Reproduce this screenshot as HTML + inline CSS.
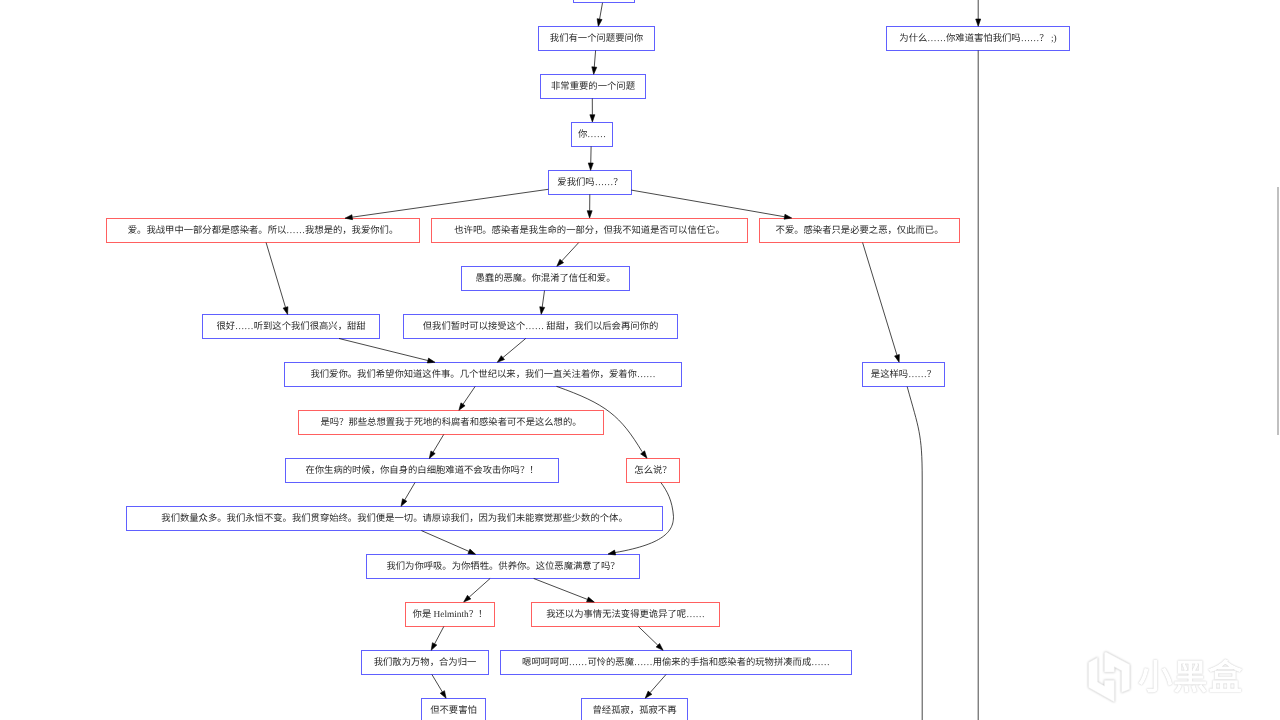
<!DOCTYPE html>
<html lang="zh-CN"><head><meta charset="utf-8">
<style>
html,body{margin:0;padding:0;background:#fff;width:1280px;height:720px;overflow:hidden}
svg{position:absolute;left:0;top:0;will-change:transform}
text{font-family:"Liberation Serif",serif;font-size:9.333px;text-rendering:geometricPrecision;fill:#2a2a2a;text-anchor:middle}
.sb{position:absolute;left:1277px;top:187px;width:2px;height:248px;background:#c0c0c0}
.wm{position:absolute;left:1138px;top:652px;font-family:"Liberation Sans",sans-serif;font-size:34.5px;line-height:50px;font-weight:bold;color:#fff;letter-spacing:1px;text-shadow:0 0 1.5px rgba(0,0,0,0.3)}
</style></head><body>
<svg width="1280" height="720" viewBox="0 0 1280 720">
<rect x="573.5" y="-21.5" width="61.0" height="24" fill="none" stroke="#6060ff" stroke-width="1"/>
<rect x="538.5" y="26.5" width="116.0" height="24" fill="none" stroke="#6060ff" stroke-width="1"/>
<text x="596.50" y="41.30">我们有一个问题要问你</text>
<rect x="886.5" y="26.5" width="183.0" height="24" fill="none" stroke="#6060ff" stroke-width="1"/>
<text x="978.00" y="41.30">为什么……你难道害怕我们吗……？ ;)</text>
<rect x="540.5" y="74.5" width="105.0" height="24" fill="none" stroke="#6060ff" stroke-width="1"/>
<text x="593.00" y="89.30">非常重要的一个问题</text>
<rect x="571.5" y="122.5" width="41.0" height="24" fill="none" stroke="#6060ff" stroke-width="1"/>
<text x="592.00" y="137.30">你……</text>
<rect x="548.5" y="170.5" width="83.0" height="24" fill="none" stroke="#6060ff" stroke-width="1"/>
<text x="590.00" y="185.30">爱我们吗……？</text>
<rect x="106.5" y="218.5" width="313.0" height="24" fill="none" stroke="#ff6060" stroke-width="1"/>
<text x="263.00" y="233.30">爱。我战甲中一部分都是感染者。所以……我想是的，我爱你们。</text>
<rect x="431.5" y="218.5" width="316.0" height="24" fill="none" stroke="#ff6060" stroke-width="1"/>
<text x="589.50" y="233.30">也许吧。感染者是我生命的一部分，但我不知道是否可以信任它。</text>
<rect x="759.5" y="218.5" width="200.0" height="24" fill="none" stroke="#ff6060" stroke-width="1"/>
<text x="859.50" y="233.30">不爱。感染者只是必要之恶，仅此而已。</text>
<rect x="461.5" y="266.5" width="168.0" height="24" fill="none" stroke="#6060ff" stroke-width="1"/>
<text x="545.50" y="281.30">愚蠢的恶魔。你混淆了信任和爱。</text>
<rect x="202.5" y="314.5" width="177.0" height="24" fill="none" stroke="#6060ff" stroke-width="1"/>
<text x="291.00" y="329.30">很好……听到这个我们很高兴，甜甜</text>
<rect x="403.5" y="314.5" width="274.0" height="24" fill="none" stroke="#6060ff" stroke-width="1"/>
<text x="540.50" y="329.30">但我们暂时可以接受这个…… 甜甜，我们以后会再问你的</text>
<rect x="284.5" y="362.5" width="397.0" height="24" fill="none" stroke="#6060ff" stroke-width="1"/>
<text x="483.00" y="377.30">我们爱你。我们希望你知道这件事。几个世纪以来，我们一直关注着你，爱着你……</text>
<rect x="862.5" y="362.5" width="82.0" height="24" fill="none" stroke="#6060ff" stroke-width="1"/>
<text x="903.50" y="377.30">是这样吗……？</text>
<rect x="298.5" y="410.5" width="305.0" height="24" fill="none" stroke="#ff6060" stroke-width="1"/>
<text x="451.00" y="425.30">是吗？那些总想置我于死地的科腐者和感染者可不是这么想的。</text>
<rect x="285.5" y="458.5" width="273.0" height="24" fill="none" stroke="#6060ff" stroke-width="1"/>
<text x="422.00" y="473.30">在你生病的时候，你自身的白细胞难道不会攻击你吗？！</text>
<rect x="626.5" y="458.5" width="53.0" height="24" fill="none" stroke="#ff6060" stroke-width="1"/>
<text x="653.00" y="473.30">怎么说？</text>
<rect x="126.5" y="506.5" width="536.0" height="24" fill="none" stroke="#6060ff" stroke-width="1"/>
<text x="394.50" y="521.30">我们数量众多。我们永恒不变。我们贯穿始终。我们便是一切。请原谅我们，因为我们未能察觉那些少数的个体。</text>
<rect x="366.5" y="554.5" width="273.0" height="24" fill="none" stroke="#6060ff" stroke-width="1"/>
<text x="503.00" y="569.30">我们为你呼吸。为你牺牲。供养你。这位恶魔满意了吗？</text>
<rect x="405.5" y="602.5" width="89.0" height="24" fill="none" stroke="#ff6060" stroke-width="1"/>
<text x="450.00" y="617.30">你是 Helminth？！</text>
<rect x="531.5" y="602.5" width="188.0" height="24" fill="none" stroke="#ff6060" stroke-width="1"/>
<text x="625.50" y="617.30">我还以为事情无法变得更诡异了呢……</text>
<rect x="361.5" y="650.5" width="127.0" height="24" fill="none" stroke="#6060ff" stroke-width="1"/>
<text x="425.00" y="665.30">我们散为万物，合为归一</text>
<rect x="500.5" y="650.5" width="351.0" height="24" fill="none" stroke="#6060ff" stroke-width="1"/>
<text x="676.00" y="665.30">嗯呵呵呵呵……可怜的恶魔……用偷来的手指和感染者的玩物拼凑而成……</text>
<rect x="421.5" y="698.5" width="64.0" height="24" fill="none" stroke="#6060ff" stroke-width="1"/>
<text x="453.50" y="713.30">但不要害怕</text>
<rect x="581.5" y="698.5" width="106.0" height="24" fill="none" stroke="#6060ff" stroke-width="1"/>
<text x="634.50" y="713.30">曾经孤寂，孤寂不再</text>
<path d="M602.5,2.8 L599.58,19.11" stroke="#000" stroke-width="0.72" fill="none"/>
<polygon points="598.30,26.30 597.12,18.67 602.05,19.55" fill="#000" stroke="#000" stroke-width="0.6"/>
<path d="M595.6,50.5 L594.28,67.02" stroke="#000" stroke-width="0.72" fill="none"/>
<polygon points="593.70,74.30 591.79,66.82 596.77,67.22" fill="#000" stroke="#000" stroke-width="0.6"/>
<path d="M592.3,98.5 L592.37,114.70" stroke="#000" stroke-width="0.72" fill="none"/>
<polygon points="592.40,122.00 589.87,114.71 594.87,114.69" fill="#000" stroke="#000" stroke-width="0.6"/>
<path d="M591.1,146.5 L590.75,163.00" stroke="#000" stroke-width="0.72" fill="none"/>
<polygon points="590.60,170.30 588.25,162.95 593.25,163.05" fill="#000" stroke="#000" stroke-width="0.6"/>
<path d="M548.3,189.3 L352.23,217.17" stroke="#000" stroke-width="0.72" fill="none"/>
<polygon points="345.00,218.20 351.88,214.70 352.58,219.65" fill="#000" stroke="#000" stroke-width="0.6"/>
<path d="M589.8,194.5 L589.66,210.70" stroke="#000" stroke-width="0.72" fill="none"/>
<polygon points="589.60,218.00 587.16,210.68 592.16,210.72" fill="#000" stroke="#000" stroke-width="0.6"/>
<path d="M631.3,190.1 L784.51,216.75" stroke="#000" stroke-width="0.72" fill="none"/>
<polygon points="791.70,218.00 784.08,219.21 784.94,214.29" fill="#000" stroke="#000" stroke-width="0.6"/>
<path d="M266.1,242.6 L285.51,307.41" stroke="#000" stroke-width="0.72" fill="none"/>
<polygon points="287.60,314.40 283.11,308.12 287.90,306.69" fill="#000" stroke="#000" stroke-width="0.6"/>
<path d="M578.7,242.6 L561.75,260.94" stroke="#000" stroke-width="0.72" fill="none"/>
<polygon points="556.80,266.30 559.92,259.24 563.59,262.64" fill="#000" stroke="#000" stroke-width="0.6"/>
<path d="M544.5,290.6 L542.21,307.07" stroke="#000" stroke-width="0.72" fill="none"/>
<polygon points="541.20,314.30 539.73,306.72 544.68,307.41" fill="#000" stroke="#000" stroke-width="0.6"/>
<path d="M339.0,338.5 L427.91,360.54" stroke="#000" stroke-width="0.72" fill="none"/>
<polygon points="435.00,362.30 427.31,362.97 428.52,358.12" fill="#000" stroke="#000" stroke-width="0.6"/>
<path d="M525.7,338.5 L502.90,357.61" stroke="#000" stroke-width="0.72" fill="none"/>
<polygon points="497.30,362.30 501.29,355.70 504.50,359.53" fill="#000" stroke="#000" stroke-width="0.6"/>
<path d="M862.6,242.6 L896.97,355.22" stroke="#000" stroke-width="0.72" fill="none"/>
<polygon points="899.10,362.20 894.58,355.95 899.36,354.49" fill="#000" stroke="#000" stroke-width="0.6"/>
<path d="M475.1,386.5 L463.01,404.27" stroke="#000" stroke-width="0.72" fill="none"/>
<polygon points="458.90,410.30 460.94,402.86 465.07,405.67" fill="#000" stroke="#000" stroke-width="0.6"/>
<path d="M443.7,434.5 L433.06,452.24" stroke="#000" stroke-width="0.72" fill="none"/>
<polygon points="429.30,458.50 430.91,450.95 435.20,453.53" fill="#000" stroke="#000" stroke-width="0.6"/>
<path d="M415.0,482.5 L404.70,500.01" stroke="#000" stroke-width="0.72" fill="none"/>
<polygon points="401.00,506.30 402.55,498.74 406.86,501.28" fill="#000" stroke="#000" stroke-width="0.6"/>
<path d="M421.4,530.6 L468.91,551.38" stroke="#000" stroke-width="0.72" fill="none"/>
<polygon points="475.60,554.30 467.91,553.67 469.91,549.08" fill="#000" stroke="#000" stroke-width="0.6"/>
<path d="M490.1,578.5 L469.15,597.15" stroke="#000" stroke-width="0.72" fill="none"/>
<polygon points="463.70,602.00 467.49,595.28 470.81,599.01" fill="#000" stroke="#000" stroke-width="0.6"/>
<path d="M533.7,578.5 L587.50,599.45" stroke="#000" stroke-width="0.72" fill="none"/>
<polygon points="594.30,602.10 586.59,601.78 588.40,597.12" fill="#000" stroke="#000" stroke-width="0.6"/>
<path d="M443.8,626.5 L434.62,643.85" stroke="#000" stroke-width="0.72" fill="none"/>
<polygon points="431.20,650.30 432.41,642.68 436.83,645.02" fill="#000" stroke="#000" stroke-width="0.6"/>
<path d="M638.4,626.5 L657.84,645.23" stroke="#000" stroke-width="0.72" fill="none"/>
<polygon points="663.10,650.30 656.11,647.04 659.58,643.43" fill="#000" stroke="#000" stroke-width="0.6"/>
<path d="M431.9,674.5 L442.35,691.94" stroke="#000" stroke-width="0.72" fill="none"/>
<polygon points="446.10,698.20 440.20,693.22 444.49,690.65" fill="#000" stroke="#000" stroke-width="0.6"/>
<path d="M666.0,674.5 L650.02,692.71" stroke="#000" stroke-width="0.72" fill="none"/>
<polygon points="645.20,698.20 648.14,691.06 651.89,694.36" fill="#000" stroke="#000" stroke-width="0.6"/>
<path d="M978.2,-5 L978.20,19.00" stroke="#000" stroke-width="0.72" fill="none"/>
<polygon points="978.20,26.30 975.70,19.00 980.70,19.00" fill="#000" stroke="#000" stroke-width="0.6"/>
<path d="M556.5,386.4 C606.3,403.99 620.49,415.88 642.1,451.7" stroke="#000" stroke-width="0.72" fill="none"/>
<polygon points="647.00,458.20 640.61,453.88 644.60,450.87" fill="#000" stroke="#000" stroke-width="0.6"/>
<path d="M660.9,482.6 C667.17,491.06 672.36,500.45 673.5,516.7 C673.31,529.47 667.08,543.64 614.8,552.6" stroke="#000" stroke-width="0.72" fill="none"/>
<polygon points="608.00,554.10 614.59,550.09 615.67,554.97" fill="#000" stroke="#000" stroke-width="0.6"/>
<path d="M907.2,386.7 C918.7,428.49 922.16,433.56 922.2,478 L922.2,725" stroke="#000" stroke-width="0.72" fill="none"/>
<path d="M978.2,50.5 L978.2,725" stroke="#000" stroke-width="0.72" fill="none"/>
</svg>
<div class="sb"></div>
<svg class="logo" width="60" height="60" viewBox="1080 645 60 60" style="position:absolute;left:1080px;top:645px;filter:drop-shadow(0 0 1px rgba(0,0,0,0.28))">
<g fill="#fff" stroke="#f2f2f2" stroke-width="0.6" stroke-linejoin="round">
<polygon points="1106.0,652.0 1129.7,664.6 1129.7,689.3 1121.6,692.4 1121.6,670.7 1114.3,666.7 1114.3,672.1 1104.4,672.1 1104.4,652.8"/>
<polygon points="1088.6,662.4 1097.6,657.4 1097.6,682.0 1104.4,686.1 1104.4,680.2 1114.3,680.2 1114.3,701.9 1088.6,687.5"/>
</g></svg>
<div class="wm">小黑盒</div>
</body></html>
